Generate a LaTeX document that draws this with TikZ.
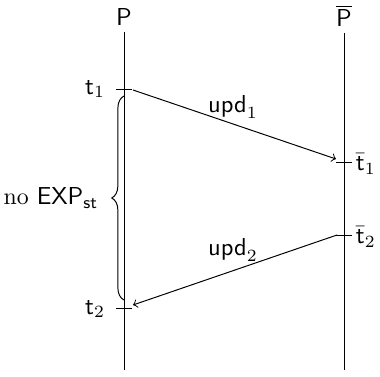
\documentclass[tikz,border=0pt]{standalone}
\usetikzlibrary{decorations.pathreplacing}
\begin{document}
\begin{tikzpicture}[x=0.408pt,y=-0.408pt,
  life/.style={draw,line width=0.4pt},
  tick/.style={draw,line width=0.4pt},
  msg/.style={draw,->,line width=0.4pt},
  lbl/.style={inner sep=1pt}]
\useasboundingbox (0,0) rectangle (380,377);
% lifelines
\node[lbl] (P) at (124,17) {$\mathsf{P}$};
\node[lbl] (Q) at (344,16) {$\overline{\mathsf{P}}$};
\coordinate (Ptop) at (124,32);
\coordinate (Pbot) at (124,370);
\coordinate (Qtop) at (344,33);
\coordinate (Qbot) at (344,370);
\draw[life] (Ptop) -- (Pbot);
\draw[life] (Qtop) -- (Qbot);
% ticks
\coordinate (t1w) at (116,89);  \coordinate (t1e) at (132,89);
\coordinate (t2w) at (116,308); \coordinate (t2e) at (132,308);
\coordinate (s1w) at (336,162); \coordinate (s1e) at (352,162);
\coordinate (s2w) at (336,235); \coordinate (s2e) at (352,235);
\draw[tick] (t1w) -- (t1e);
\draw[tick] (t2w) -- (t2e);
\draw[tick] (s1w) -- (s1e);
\draw[tick] (s2w) -- (s2e);
% tick labels
\node[lbl,anchor=east] (lt1) at (108,89) {$\mathsf{t}_1$};
\node[lbl,anchor=east] (lt2) at (108,309) {$\mathsf{t}_2$};
\node[lbl,anchor=west] (ls1) at (353,164) {$\bar{\mathsf{t}}_1$};
\node[lbl,anchor=west] (ls2) at (353,237) {$\bar{\mathsf{t}}_2$};
% messages
\coordinate (a1s) at (133,90);
\coordinate (a1e) at (336,159);
\coordinate (a2s) at (337,235);
\coordinate (a2e) at (133,305);
\draw[msg] (a1s) -- (a1e);
\draw[msg] (a2s) -- (a2e);
\node (u1) at (233,107) {$\mathsf{upd}_1$};
\node (u2) at (233,250) {$\mathsf{upd}_2$};
% brace
\coordinate (bb) at (124,300);
\coordinate (bt) at (124,96);
\draw[line width=0.4pt,decorate,decoration={brace,amplitude=5pt}] (bb) -- (bt)
  node[midway,left=7pt] (noexp) {\fontsize{9.7}{11}\selectfont no $\mathsf{EXP}_{\mathsf{st}}$};
\end{tikzpicture}
\end{document}
